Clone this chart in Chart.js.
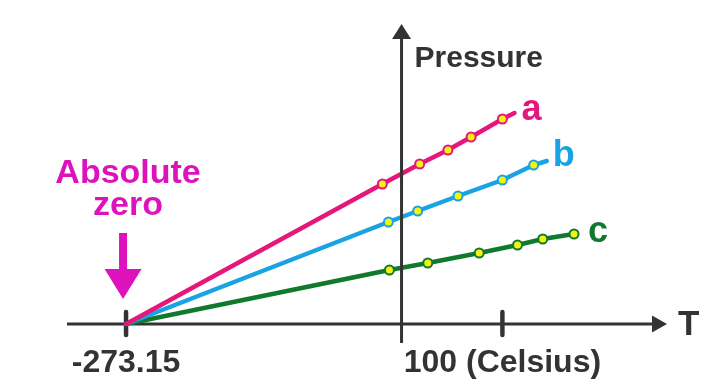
<!DOCTYPE html>
<html>
<head>
<meta charset="utf-8">
<script src="https://cdn.jsdelivr.net/npm/chart.js@4/dist/chart.umd.min.js"></script>
<style>
  html, body { margin: 0; padding: 0; background: #ffffff; }
  canvas { display: block; }
</style>
</head>
<body>
<canvas id="c" width="709" height="383"></canvas>
<script>
// ---- data ----
const absoluteZero = -273.15;               // all lines start here at zero pressure
const xTickValues = [-273.15, 100];
const xTickLabels = ['-273.15', '100 (Celsius)'];
const seriesNames = ['a', 'b', 'c'];

// measured points (temperature in °C, pressure in arbitrary units)
const tempA = [-19, 18, 46, 69, 100];
const pressA = [140, 160, 174, 187, 205];
const tempB = [-13, 16, 56, 100, 131];
const pressB = [102, 113, 128, 144, 159];
const tempC = [-12, 26, 77, 115, 140, 171];
const pressC = [54, 61, 71, 79, 85, 90];

// where each drawn line stops (temperature, pressure); null = at last point
const lineEndA = [112, 211];
const lineEndB = [144, 163];
const lineEndC = null;

// ---- build datasets ----
const FONT = '"Liberation Sans", Arial, Helvetica, sans-serif';
const AXIS = '#333333';
const colors = ['#E5177B', '#1AA3E3', '#0F7A2E'];
const labelOffsets = [[7, 7], [6, 5], [14, 8]];

function buildSeries(temps, press, lineEnd) {
  const pts = [{ x: absoluteZero, y: 0 }];
  temps.forEach((t, i) => pts.push({ x: t, y: press[i] }));
  if (lineEnd) pts.push({ x: lineEnd[0], y: lineEnd[1] });
  return pts;
}
const seriesData = [
  buildSeries(tempA, pressA, lineEndA),
  buildSeries(tempB, pressB, lineEndB),
  buildSeries(tempC, pressC, lineEndC)
];
const hasExt = [!!lineEndA, !!lineEndB, !!lineEndC];

const datasets = seriesData.map((d, si) => ({
  label: seriesNames[si],
  data: d,
  borderColor: colors[si],
  borderWidth: 4.5,
  backgroundColor: '#F4F20E',
  pointBackgroundColor: '#F4F20E',
  pointBorderColor: colors[si],
  pointBorderWidth: 2,
  pointRadius: ctx => (ctx.dataIndex === 0 || (hasExt[si] && ctx.dataIndex === d.length - 1)) ? 0 : 4.5,
  pointHoverRadius: 0,
  tension: 0,
  fill: false,
  borderCapStyle: 'round',
  clip: false
}));

// ---- decorations: axes with arrows, tick marks, annotation texts ----
function arrowHead(ctx, tipX, tipY, dir, len, halfW) {
  ctx.beginPath();
  if (dir === 'right') {
    ctx.moveTo(tipX, tipY);
    ctx.lineTo(tipX - len, tipY - halfW);
    ctx.lineTo(tipX - len, tipY + halfW);
  } else if (dir === 'up') {
    ctx.moveTo(tipX, tipY);
    ctx.lineTo(tipX - halfW, tipY + len);
    ctx.lineTo(tipX + halfW, tipY + len);
  } else {
    ctx.moveTo(tipX, tipY);
    ctx.lineTo(tipX - halfW, tipY - len);
    ctx.lineTo(tipX + halfW, tipY - len);
  }
  ctx.closePath();
  ctx.fill();
}

const decor = {
  id: 'decor',
  beforeDatasetsDraw(chart) {
    const { ctx, chartArea, scales } = chart;
    const x = scales.x, y = scales.y;
    const y0 = y.getPixelForValue(0);
    ctx.save();
    ctx.strokeStyle = AXIS;
    ctx.fillStyle = AXIS;
    // horizontal axis
    ctx.lineWidth = 3;
    ctx.beginPath();
    ctx.moveTo(chartArea.left, y0);
    ctx.lineTo(chartArea.right - 10, y0);
    ctx.stroke();
    arrowHead(ctx, chartArea.right, y0, 'right', 15, 8.5);
    // tick marks
    ctx.lineWidth = 4.5;
    ctx.lineCap = 'round';
    xTickValues.forEach(v => {
      const px = x.getPixelForValue(v);
      ctx.beginPath();
      ctx.moveTo(px, y0 - 12);
      ctx.lineTo(px, y0 + 11);
      ctx.stroke();
    });
    ctx.restore();
  },
  afterDatasetsDraw(chart) {
    const { ctx, chartArea, scales } = chart;
    const x = scales.x, y = scales.y;
    const y0 = y.getPixelForValue(0);
    const xz = x.getPixelForValue(0);
    ctx.save();
    ctx.strokeStyle = AXIS;
    ctx.fillStyle = AXIS;
    // vertical (pressure) axis at 0 °C
    ctx.lineWidth = 3;
    ctx.beginPath();
    ctx.moveTo(xz, y0 + 19);
    ctx.lineTo(xz, chartArea.top + 10);
    ctx.stroke();
    arrowHead(ctx, xz, chartArea.top, 'up', 15, 9.5);

    // axis titles
    ctx.textBaseline = 'alphabetic';
    ctx.textAlign = 'left';
    ctx.font = 'bold 30px ' + FONT;
    ctx.fillText('Pressure', xz + 13, 67);
    ctx.font = 'bold 35px ' + FONT;
    ctx.fillText('T', chartArea.right + 11, y0 + 11);

    // series labels at the line ends
    ctx.font = 'bold 36px ' + FONT;
    chart.data.datasets.forEach((ds, si) => {
      const last = ds.data[ds.data.length - 1];
      const px = x.getPixelForValue(last.x);
      const py = y.getPixelForValue(last.y);
      ctx.fillStyle = colors[si];
      ctx.fillText(seriesNames[si], px + labelOffsets[si][0], py + labelOffsets[si][1]);
    });

    // "Absolute zero" annotation with arrow
    const ax = x.getPixelForValue(absoluteZero);
    ctx.fillStyle = '#DE12BC';
    ctx.textAlign = 'center';
    ctx.font = 'bold 34px ' + FONT;
    ctx.fillText('Absolute', ax + 2, 183);
    ctx.fillText('zero', ax + 2, 215);
    ctx.fillRect(ax - 7, 233, 8, 38);
    arrowHead(ctx, ax - 3, y0 - 25, 'down', 30, 18.5);
    ctx.restore();
  }
};

new Chart(document.getElementById('c'), {
  type: 'line',
  data: { datasets },
  options: {
    responsive: false,
    animation: false,
    events: [],
    layout: { padding: { left: 67, right: 42, top: 24, bottom: 2 } },
    plugins: { legend: { display: false }, tooltip: { enabled: false } },
    scales: {
      x: {
        type: 'linear',
        min: -331.7,
        max: 263.2,
        grid: { display: false },
        border: { display: false },
        afterBuildTicks: scale => { scale.ticks = xTickValues.map(v => ({ value: v })); },
        afterFit: scale => { scale.height = 57; },
        ticks: {
          autoSkip: false,
          maxRotation: 0,
          padding: 12,
          color: AXIS,
          font: { family: FONT, size: 32, weight: 'bold' },
          callback: (value) => {
            const i = xTickValues.indexOf(value);
            return i >= 0 ? xTickLabels[i] : '';
          }
        }
      },
      y: {
        type: 'linear',
        display: false,
        min: 0,
        max: 300
      }
    }
  },
  plugins: [decor]
});
</script>
</body>
</html>
